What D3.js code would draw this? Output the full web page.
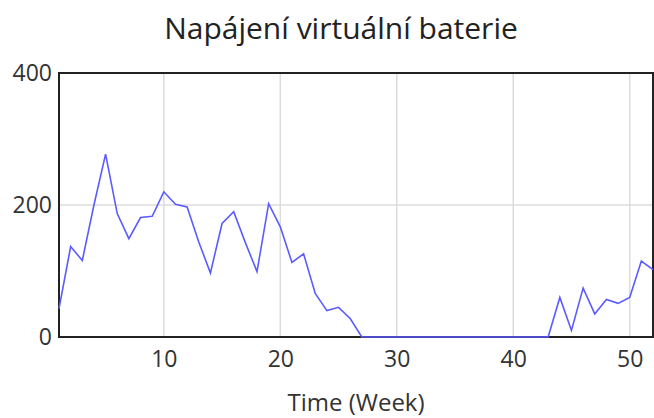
<!DOCTYPE html>
<html>
<head>
<meta charset="utf-8">
<script src="https://cdn.jsdelivr.net/npm/d3@7"></script>
<style>
  body { margin: 0; background: #fff; }
  svg text { font-family: "Open Sans", "Noto Sans", sans-serif; }
</style>
</head>
<body>
<svg id="chart" width="654" height="418"></svg>
<script>
var title = 'Napájení virtuální baterie';
var xLabel = 'Time (Week)';
var weeks = d3.range(1, 53);
var power = [43, 137, 116, 200, 277, 187, 149, 181, 183, 220,
             201, 197, 144, 97, 172, 190, 143, 99, 202, 167,
             113, 126, 66, 40, 45, 28, 0, 0, 0, 0,
             0, 0, 0, 0, 0, 0, 0, 0, 0, 0,
             0, 0, 0, 60, 10, 74, 35, 57, 51, 60,
             115, 102];
var xTicks = [10, 20, 30, 40, 50];
var yTicks = [0, 200, 400];

var svg = d3.select('#chart');
var margin = {top: 73, right: 1, bottom: 81, left: 59};
var width = 654 - margin.left - margin.right;
var height = 418 - margin.top - margin.bottom;

var x = d3.scaleLinear().domain([1, 52]).range([0, width]);
var y = d3.scaleLinear().domain([0, 400]).range([height, 0]);

var g = svg.append('g').attr('transform', 'translate(' + margin.left + ',' + margin.top + ')');

// grid
g.selectAll('.vgrid').data(xTicks).enter().append('line')
  .attr('x1', function(d) {return x(d);}).attr('x2', function(d) {return x(d);})
  .attr('y1', 0).attr('y2', height)
  .attr('stroke', '#dcdcdc').attr('stroke-width', 1.5);
g.selectAll('.hgrid').data(yTicks).enter().append('line')
  .attr('x1', 0).attr('x2', width)
  .attr('y1', function(d) {return y(d);}).attr('y2', function(d) {return y(d);})
  .attr('stroke', '#dcdcdc').attr('stroke-width', 1.5);

// frame
g.append('rect')
  .attr('x', 0).attr('y', 0).attr('width', width).attr('height', height)
  .attr('fill', 'none').attr('stroke', '#222').attr('stroke-width', 2);

// series (on top of the frame, the zero stretch shows blue on the bottom edge)
var line = d3.line()
  .x(function(d, i) {return x(weeks[i]);})
  .y(function(d) {return y(d);});
g.append('path')
  .datum(power)
  .attr('d', line)
  .attr('fill', 'none')
  .attr('stroke', '#5b5bff')
  .attr('stroke-width', 1.6);

// axes
var xAxis = g.append('g').attr('transform', 'translate(0,' + height + ')')
  .call(d3.axisBottom(x).tickValues(xTicks).tickSize(0).tickPadding(14));
var yAxis = g.append('g')
  .call(d3.axisLeft(y).tickValues(yTicks).tickSize(0).tickPadding(7));
[xAxis, yAxis].forEach(function(a) {
  a.select('.domain').remove();
  a.selectAll('text').attr('font-size', 23).attr('fill', '#333')
    .attr('font-family', '"Open Sans", "Noto Sans", sans-serif');
});

svg.append('text')
  .attr('x', 341).attr('y', 39)
  .attr('text-anchor', 'middle')
  .attr('font-size', 30).attr('fill', '#222')
  .text(title);

svg.append('text')
  .attr('x', margin.left + width / 2).attr('y', 411)
  .attr('text-anchor', 'middle')
  .attr('font-size', 24).attr('fill', '#333')
  .text(xLabel);
</script>
</body>
</html>
